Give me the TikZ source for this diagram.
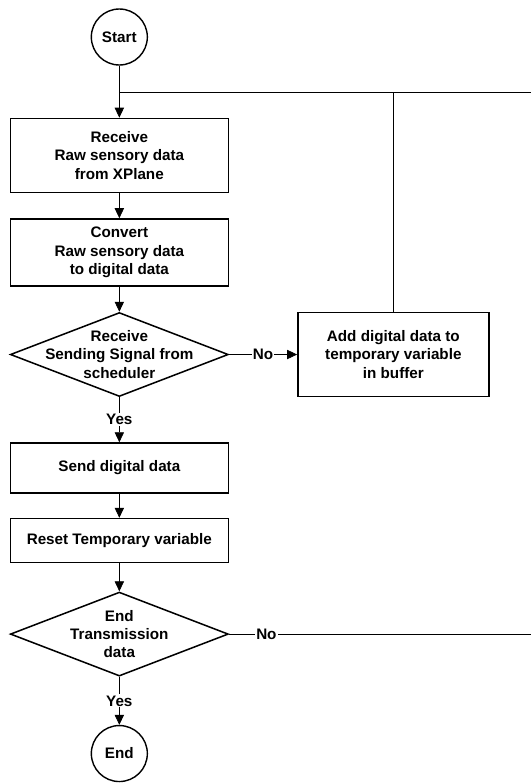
\documentclass[tikz,border=0pt]{standalone}
\usepackage{fontspec}
\setmainfont{Liberation Sans}
\usetikzlibrary{positioning,arrows.meta,shapes.geometric}
\newcommand{\flowfont}{\fontsize{13}{15.7}\selectfont\bfseries}

\begin{document}
\begin{tikzpicture}[
    font=\flowfont,
    box/.style={rectangle, draw=black, line width=1.3pt, minimum width=6.54cm,
                align=center, inner sep=2pt},
    terminal/.style={circle, draw=black, line width=1.2pt, minimum size=1.68cm, inner sep=0pt},
    decision/.style={diamond, draw=black, line width=1.3pt, minimum width=6.54cm,
                     minimum height=2.52cm, inner sep=0pt, label={[align=center]center:{#1}}},
    arrow/.style={-{Triangle[length=3mm, width=2.8mm]}, line width=0.6pt},
    link/.style={line width=0.6pt},
    lbl/.style={fill=white, inner sep=1pt}
]
    \useasboundingbox (0,0) rectangle (15.9,-23.49);
    \node[terminal] (start) at (3.58,-1.11) {Start};
    \node[box, minimum height=2.22cm, below=1.56cm of start] (recv) {Receive\\Raw sensory data\\from XPlane};
    \node[box, minimum height=2.01cm, below=0.75cm of recv] (conv) {Convert\\Raw sensory data\\to digital data};
    \node[decision={Receive\\Sending Signal from\\scheduler}, below=0.75cm of conv] (sigq) {};
    \node[box, minimum width=5.73cm, minimum height=2.52cm, right=2.04cm of sigq] (buffer) {Add digital data to\\temporary variable\\in buffer};
    \node[box, minimum height=1.5cm, below=1.35cm of sigq] (send) {Send digital data};
    \node[box, minimum height=1.32cm, below=0.72cm of send] (reset) {Reset Temporary variable};
    \node[decision={End\\Transmission\\data}, below=0.84cm of reset] (endq) {};
    \node[terminal, below=1.44cm of endq] (stop) {End};

    % loop back to the top
    \coordinate (loopR) at (16.2,-2.76);
    \coordinate (join) at (start.south |- loopR);

    \draw[arrow] (start) -- (recv);
    \draw[arrow] (recv) -- (conv);
    \draw[arrow] (conv) -- (sigq);
    \draw[arrow] (sigq) -- node[lbl] {No} (buffer);
    \draw[arrow] (sigq) -- node[lbl] {Yes} (send);
    \draw[arrow] (send) -- (reset);
    \draw[arrow] (reset) -- (endq);
    \draw[arrow] (endq) -- node[lbl] {Yes} (stop);
    \draw[link] (endq.east) -- node[lbl, pos=0.12] {No} (endq.east -| loopR) -- (loopR) -- (join);
    \draw[link] (buffer.north) -- (buffer.north |- loopR);
\end{tikzpicture}
\end{document}
